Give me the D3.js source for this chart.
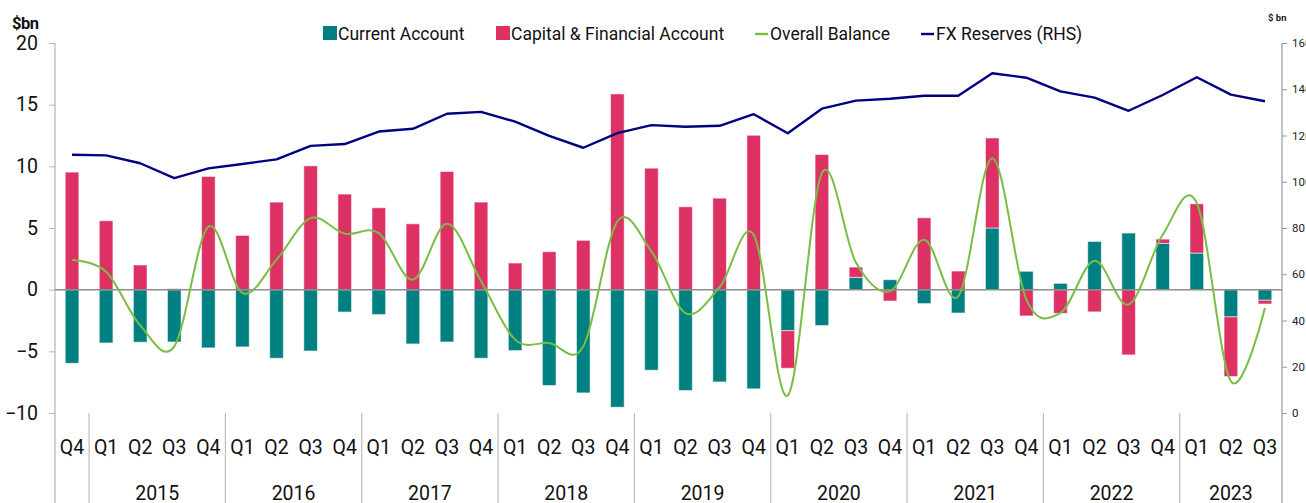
<!DOCTYPE html>
<html>
<head>
<meta charset="utf-8">
<script src="https://cdn.jsdelivr.net/npm/d3@7"></script>
<style>
  html, body { margin: 0; padding: 0; background: #fff; }
  svg { display: block; font-family: Roboto, "Liberation Sans", sans-serif; }
</style>
</head>
<body>
<svg id="chart" width="1306" height="503"></svg>
<script>
// quarter labels, one per bar
const quarters = ["Q4",
  "Q1","Q2","Q3","Q4", "Q1","Q2","Q3","Q4", "Q1","Q2","Q3","Q4", "Q1","Q2","Q3","Q4",
  "Q1","Q2","Q3","Q4", "Q1","Q2","Q3","Q4", "Q1","Q2","Q3","Q4", "Q1","Q2","Q3","Q4",
  "Q1","Q2","Q3"];
// year groups under the quarters (first Q4 has no year label)
const yearLabels = ["", "2015", "2016", "2017", "2018", "2019", "2020", "2021", "2022", "2023"];
const yearSpans = [1, 4, 4, 4, 4, 4, 4, 4, 4, 3];

// $bn, left axis
const currentAccount = [-5.97, -4.32, -4.26, -4.24, -4.72, -4.64, -5.56, -4.97, -1.81, -2.02,
  -4.4, -4.24, -5.56, -4.94, -7.77, -8.37, -9.53, -6.53, -8.18, -7.48,
  -8.04, -3.32, -2.91, 1.0, 0.81, -1.13, -1.89, 5.0, 1.49, 0.51,
  3.91, 4.59, 3.75, 2.97, -2.21, -0.86];
const capitalAccount = [9.53, 5.59, 2.0, 0.08, 9.18, 4.4, 7.1, 10.04, 7.75, 6.64,
  5.34, 9.58, 7.1, 2.16, 3.08, 4.0, 15.87, 9.85, 6.72, 7.42,
  12.52, -3.05, 10.96, 0.83, -0.92, 5.83, 1.51, 7.3, -2.13, -1.92,
  -1.8, -5.29, 0.35, 3.99, -4.83, -0.3];
const overallBalance = [2.4, 1.45, -2.9, -4.6, 5.1, -0.27, 2.43, 5.8, 4.53, 4.59,
  0.81, 5.34, 0.7, -4.05, -4.32, -4.6, 5.53, 3.1, -1.9, 0.2,
  4.45, -8.58, 9.45, 2.2, -0.13, 4.05, -0.54, 10.66, -0.81, -1.89,
  2.35, -1.21, 4.45, 7.02, -7.42, -1.48];
// $bn, right axis
const fxReserves = [111.7, 111.4, 108.0, 101.6, 105.8, 107.7, 109.7, 115.5, 116.3, 121.7,
  122.9, 129.4, 130.2, 126.0, 119.8, 114.7, 121.0, 124.5, 123.8, 124.2,
  129.2, 121.0, 131.6, 135.1, 135.9, 137.2, 137.2, 146.9, 145.0, 139.1,
  136.4, 130.7, 137.5, 145.2, 137.7, 134.8];

const leftTicks = [-10, -5, 0, 5, 10, 15, 20];
const rightTicks = [0, 20, 40, 60, 80, 100, 120, 140, 160];

const colors = { ca: "#008080", ka: "#DE3163", ob: "#78BE44", fx: "#000080" };

let svg = d3.select("#chart");

const plotLeft = 55, plotRight = 1282, plotTop = 43, plotBottom = 413;

let x = d3.scaleBand()
  .domain(d3.range(quarters.length))
  .range([plotLeft, plotRight])
  .paddingInner(0.6)
  .paddingOuter(0.3);
let y = d3.scaleLinear().domain([-10, 20]).range([plotBottom, plotTop]);
let y2 = d3.scaleLinear().domain([0, 160]).range([plotBottom, plotTop]);
const step = x.step();
const cx = i => x(i) + x.bandwidth() / 2;

// axis lines (running down through the category area)
svg.append("line").attr("x1", plotLeft).attr("x2", plotLeft).attr("y1", plotTop).attr("y2", 503)
  .attr("stroke", "#b5b5b5").attr("stroke-width", 1.2);
svg.append("line").attr("x1", plotRight).attr("x2", plotRight).attr("y1", plotTop).attr("y2", 503)
  .attr("stroke", "#9a9a9a").attr("stroke-width", 1.2);

// left axis
let yAxis = d3.axisLeft(y).tickValues(leftTicks).tickSize(6).tickPadding(11);
let gy = svg.append("g").attr("transform", `translate(${plotLeft},0)`).call(yAxis);
gy.select(".domain").remove();
gy.selectAll(".tick line").attr("stroke", "#b5b5b5");
gy.selectAll(".tick text").attr("font-size", 19.5).attr("fill", "#111")
  .attr("font-family", "Roboto, sans-serif");

// right axis (labels run off the right edge, as in the original)
let y2Axis = d3.axisRight(y2).tickValues(rightTicks).tickSize(5).tickPadding(5);
let gy2 = svg.append("g").attr("transform", `translate(${plotRight},0)`).call(y2Axis);
gy2.select(".domain").remove();
gy2.selectAll(".tick line").attr("stroke", "#9a9a9a");
gy2.selectAll(".tick text").attr("font-size", 11.5).attr("fill", "#222")
  .attr("font-family", "Roboto, sans-serif");

// unit labels
svg.append("text").attr("x", 12).attr("y", 29).text("$bn")
  .attr("font-size", 16.5).attr("font-weight", "bold").attr("fill", "#111")
  .attr("letter-spacing", -0.5);
svg.append("text").attr("x", 1268).attr("y", 21).text("$ bn")
  .attr("font-size", 9.5).attr("font-weight", "bold").attr("fill", "#222");

// stacked bars, positives up and negatives down
let rows = quarters.map((q, i) => ({ ca: currentAccount[i], ka: capitalAccount[i] }));
let series = d3.stack().keys(["ca", "ka"]).offset(d3.stackOffsetDiverging)(rows);

svg.append("g").selectAll("g")
  .data(series)
  .join("g")
  .attr("fill", d => colors[d.key])
  .selectAll("rect")
  .data(d => d)
  .join("rect")
  .attr("x", (d, i) => x(i))
  .attr("width", x.bandwidth())
  .attr("y", d => y(Math.max(d[0], d[1])))
  .attr("height", d => Math.abs(y(d[0]) - y(d[1])))
  .attr("stroke", "#ffffff")
  .attr("stroke-opacity", 0.55)
  .attr("stroke-width", 1);

// zero line
svg.append("line").attr("x1", plotLeft).attr("x2", plotRight).attr("y1", y(0)).attr("y2", y(0))
  .attr("stroke", "#8c8c8c").attr("stroke-width", 1.5);

// overall balance, smoothed
let obLine = d3.line()
  .x((d, i) => cx(i))
  .y(d => y(d))
  .curve(d3.curveCardinal.tension(0));
svg.append("path").datum(overallBalance)
  .attr("d", obLine)
  .attr("fill", "none").attr("stroke", colors.ob).attr("stroke-width", 2);

// FX reserves on the right axis
let fxLine = d3.line().x((d, i) => cx(i)).y(d => y2(d));
svg.append("path").datum(fxReserves)
  .attr("d", fxLine)
  .attr("fill", "none").attr("stroke", colors.fx).attr("stroke-width", 2.4)
  .attr("stroke-linejoin", "round");

// category labels
svg.append("g").selectAll("text")
  .data(quarters)
  .join("text")
  .attr("x", (d, i) => cx(i))
  .attr("y", 454)
  .attr("text-anchor", "middle")
  .attr("font-size", 19.5)
  .attr("fill", "#111")
  .text(d => d);

// year groups and separators
let start = 0;
yearSpans.forEach((n, k) => {
  if (k > 0) {
    let sx = plotLeft + start * step;
    svg.append("line").attr("x1", sx).attr("x2", sx).attr("y1", plotBottom).attr("y2", 503)
      .attr("stroke", "#bdbdbd").attr("stroke-width", 1.2);
  }
  if (yearLabels[k]) {
    svg.append("text")
      .attr("x", plotLeft + (start + n / 2) * step)
      .attr("y", 500)
      .attr("text-anchor", "middle")
      .attr("font-size", 19.5)
      .attr("fill", "#111")
      .text(yearLabels[k]);
  }
  start += n;
});

// legend
const legend = [
  { name: "Current Account", key: "ca", type: "box", x: 323 },
  { name: "Capital & Financial Account", key: "ka", type: "box", x: 496 },
  { name: "Overall Balance", key: "ob", type: "line", x: 755 },
  { name: "FX Reserves (RHS)", key: "fx", type: "line", x: 921 }
];
let lg = svg.append("g");
legend.forEach(item => {
  if (item.type === "box") {
    lg.append("rect").attr("x", item.x).attr("y", 26).attr("width", 14).attr("height", 14)
      .attr("fill", colors[item.key]);
  } else {
    lg.append("line").attr("x1", item.x).attr("x2", item.x + 13).attr("y1", 34).attr("y2", 34)
      .attr("stroke", colors[item.key]).attr("stroke-width", 2.4);
  }
  lg.append("text")
    .attr("x", item.x + 15)
    .attr("y", 40)
    .attr("font-size", 17.5)
    .attr("fill", "#111")
    .text(item.name);
});
</script>
</body>
</html>
